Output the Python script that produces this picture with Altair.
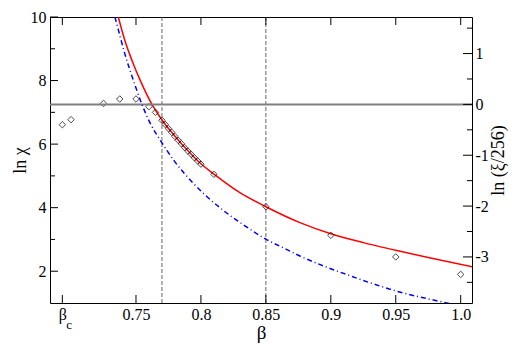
import altair as alt
import pandas as pd

W, H = 422, 286
BETA_C = 0.6933
SERIF = "Liberation Serif, Times New Roman, serif"

# measured data points (beta, ln chi)
pt_beta = [0.6933, 0.700, 0.725, 0.7375, 0.750, 0.760, 0.765,
           0.770, 0.7725, 0.775, 0.7775, 0.780, 0.7825, 0.785, 0.7875,
           0.790, 0.7925, 0.795, 0.7975, 0.800,
           0.810, 0.850, 0.900, 0.950, 1.000]
pt_lnchi = [6.61, 6.77, 7.28, 7.42, 7.42, 7.18, 7.00,
            6.75, 6.62, 6.49, 6.37, 6.24, 6.12, 6.01, 5.89,
            5.78, 5.68, 5.57, 5.47, 5.37,
            5.05, 4.03, 3.13, 2.45, 1.90]

# red fit curve (left axis)
red_beta = [0.7364, 0.7415, 0.7479, 0.7531, 0.7623, 0.770, 0.780, 0.790, 0.800,
            0.8108, 0.830, 0.850, 0.8762, 0.900, 0.925, 0.950, 0.975, 1.012]
red_lnchi = [10.0, 9.25, 8.53, 8.02, 7.25, 6.76, 6.25, 5.79, 5.38,
             5.03, 4.47, 4.03, 3.53, 3.18, 2.90, 2.66, 2.43, 2.11]

# blue dash-dot curve (right axis, ln(xi/256))
blue_beta = [0.7338, 0.7377, 0.7415, 0.7454, 0.7500, 0.7546, 0.7608, 0.770, 0.780,
             0.7938, 0.8031, 0.8169, 0.8338, 0.850, 0.8662, 0.8762, 0.9146, 0.950,
             0.9892, 0.995]
blue_lnxi = [1.719, 1.344, 0.988, 0.669, 0.323, 0.0, -0.362, -0.756, -1.131,
             -1.543, -1.778, -2.078, -2.387, -2.650, -2.856, -2.981, -3.368, -3.668,
             -3.906, -3.94]

vlines = [0.77, 0.85]
x_ticks = [BETA_C, 0.75, 0.80, 0.85, 0.90, 0.95, 1.00]
left_major = [2, 4, 6, 8, 10]
left_minor = [3, 5, 7, 9]
right_major = [-3, -2, -1, 0, 1]
right_minor = [-3.5, -2.5, -1.5, -0.5, 0.5, 1.5]

xs = alt.Scale(domain=[0.6838, 1.0087], nice=False, zero=False)
yls = alt.Scale(domain=[1, 10], nice=False, zero=False)
yrs = alt.Scale(domain=[-3.906, 1.719], nice=False, zero=False)

common = dict(ticks=False, domain=False, grid=False, labelFont=SERIF, titleFont=SERIF,
              titleFontWeight="normal", labelColor="black", titleColor="black",
              labelFlush=False, labelOverlap=False)

x_axis = alt.Axis(values=x_ticks, title="β", format=".2~f",
                  labelExpr="datum.value < 0.7 ? 'β\u2009' : (datum.value == 1 ? '1.0' : datum.label)",
                  labelPadding=3, titlePadding=1, labelFontSize=16, titleFontSize=19, **common)
yl_axis = alt.Axis(values=left_major, title="ln χ", labelPadding=4, titlePadding=1,
                   labelFontSize=16, titleFontSize=18, **common)
yr_axis = alt.Axis(values=right_major, title="ln (ξ/256)", orient="right",
                   labelPadding=3, titlePadding=1, labelFontSize=16, titleFontSize=18,
                   titleAngle=270, titleBaseline="top",
                   labelExpr="datum.value < 0 ? '-' + abs(datum.value) : datum.label", **common)

X = lambda: alt.X("b:Q", scale=xs, axis=x_axis)
YL = lambda: alt.Y("L:Q", scale=yls, axis=yl_axis)
YR = lambda: alt.Y("R:Q", scale=yrs, axis=yr_axis)

df_pts = pd.DataFrame({"b": pt_beta, "L": pt_lnchi})
df_red = pd.DataFrame({"b": red_beta, "L": red_lnchi})
df_blue = pd.DataFrame({"b": blue_beta, "R": blue_lnxi})
df_vl = pd.DataFrame({"b": vlines})
df_xt = pd.DataFrame({"b": x_ticks})
df_lmaj = pd.DataFrame({"L": left_major})
df_lmin = pd.DataFrame({"L": left_minor})
df_rmaj = pd.DataFrame({"R": right_major})
df_rmin = pd.DataFrame({"R": right_minor})
df_zero = pd.DataFrame({"R": [0]})
df_c = pd.DataFrame({"b": [BETA_C], "t": ["c"]})

vl = alt.Chart(df_vl).mark_rule(color="#666666", strokeDash=[4, 2], strokeWidth=1).encode(x=X())
red = alt.Chart(df_red).mark_line(color="#ff0000", strokeWidth=1.5, interpolate="monotone",
                                  clip=True).encode(x=X(), y=YL())
pts = alt.Chart(df_pts).mark_point(shape="diamond", filled=False, color="black", size=42,
                                   strokeWidth=1).encode(x=X(), y=YL())
lmaj = alt.Chart(df_lmaj).mark_rule(color="black").encode(y=YL(), x=alt.value(0), x2=alt.value(8))
lmin = alt.Chart(df_lmin).mark_rule(color="black").encode(y=YL(), x=alt.value(0), x2=alt.value(5))
xt_bot = alt.Chart(df_xt).mark_rule(color="black").encode(x=X(), y=alt.value(H), y2=alt.value(H - 8))
xt_top = alt.Chart(df_xt).mark_rule(color="black").encode(x=X(), y=alt.value(0), y2=alt.value(8))
csub = alt.Chart(df_c).mark_text(font=SERIF, fontSize=13, align="left", baseline="alphabetic",
                                 dx=4, color="black").encode(x=X(), y=alt.value(H + 26), text="t:N")

zero = alt.Chart(df_zero).mark_rule(color="#808080", strokeWidth=2).encode(y=YR())
blue = alt.Chart(df_blue).mark_line(color="#0000ff", strokeWidth=1.5, strokeDash=[5, 3, 1, 3],
                                    interpolate="monotone", clip=True).encode(x=X(), y=YR())
rmaj = alt.Chart(df_rmaj).mark_rule(color="black").encode(y=YR(), x=alt.value(W - 9), x2=alt.value(W))
rmin = alt.Chart(df_rmin).mark_rule(color="black").encode(y=YR(), x=alt.value(W - 5), x2=alt.value(W))

left = alt.layer(vl, red, pts, lmaj, lmin, xt_bot, xt_top, csub)
right = alt.layer(zero, blue, rmaj, rmin)

chart = alt.layer(left, right).resolve_scale(y="independent").properties(
    width=W, height=H,
    autosize=alt.AutoSizeParams(type="none"),
    padding={"left": 42, "top": 9, "right": 38, "bottom": 41},
    background="white",
).configure_view(stroke="black", strokeWidth=1)

chart.save("out.html", embed_options={"renderer": "svg", "actions": False})
